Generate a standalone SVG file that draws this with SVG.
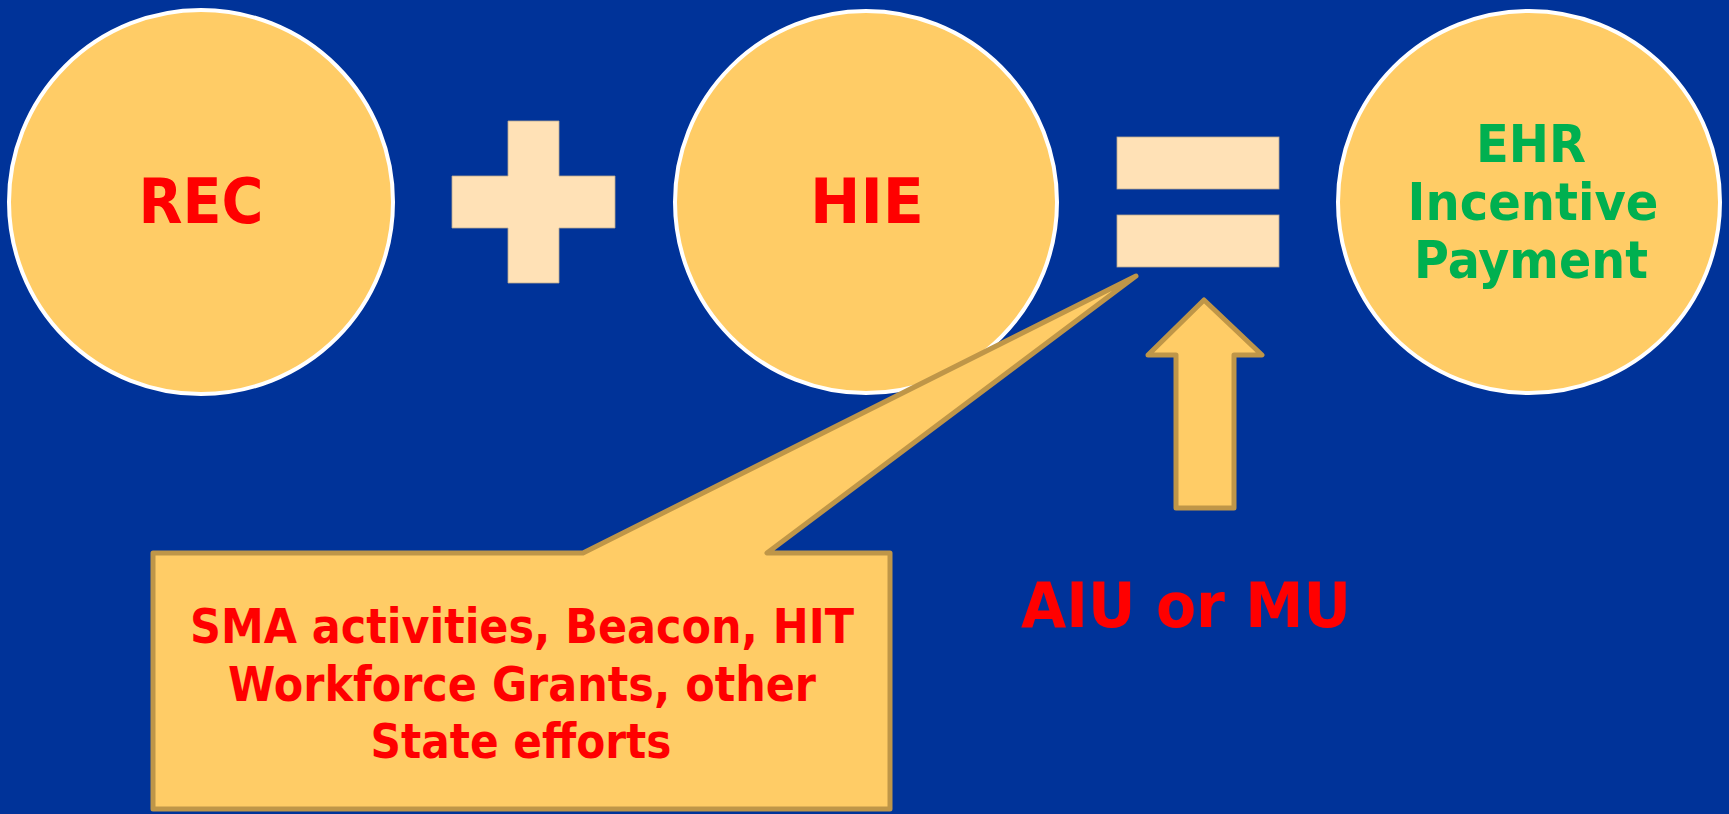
<svg xmlns="http://www.w3.org/2000/svg" width="1729" height="814" viewBox="0 0 1729 814">
<style>
.circ{fill:#FFCC66;stroke:#FFFFFF;stroke-width:4}
.sym{fill:#FFE1B6;stroke:#B8A890;stroke-width:0.8}
.shape{fill:#FFCC66;stroke:#BF9648;stroke-width:5;stroke-linejoin:round}
.t{font-family:"DejaVu Sans","Verdana",sans-serif;font-weight:bold;text-anchor:middle}
.red{fill:#FF0000}
.green{fill:#00B050}
</style>
<rect x="0" y="0" width="1729" height="814" fill="#003399"/>
<g id="rec">
<circle class="circ" cx="201" cy="202" r="192"/>
<text class="t red" x="201" y="223" font-size="62" textLength="125" lengthAdjust="spacingAndGlyphs">REC</text>
</g>
<g id="plus">
<path class="sym" d="M508,121 H559 V176 H615 V228 H559 V283 H508 V228 H452 V176 H508 Z"/>
</g>
<g id="hie">
<circle class="circ" cx="866" cy="202" r="191"/>
<text class="t red" x="867" y="223" font-size="62" textLength="114" lengthAdjust="spacingAndGlyphs">HIE</text>
</g>
<g id="equals">
<rect class="sym" x="1117" y="137" width="162" height="52"/>
<rect class="sym" x="1117" y="215" width="162" height="52"/>
</g>
<g id="ehr">
<circle class="circ" cx="1529" cy="202" r="191"/>
<text class="t green" x="1531" y="162" font-size="52" textLength="110" lengthAdjust="spacingAndGlyphs">EHR</text>
<text class="t green" x="1533" y="220" font-size="52" textLength="251" lengthAdjust="spacingAndGlyphs">Incentive</text>
<text class="t green" x="1531" y="278" font-size="52" textLength="234" lengthAdjust="spacingAndGlyphs">Payment</text>
</g>
<g id="connectors">
<path id="up-arrow" class="shape" d="M1204,300 L1262,355 H1234 V508 H1176 V355 H1148 Z"/>
</g>
<g id="callout">
<path class="shape" d="M153,553 H583 L1136,276 L767,553 H890 V809 H153 Z"/>
<text class="t red" x="522" y="643" font-size="48" textLength="664" lengthAdjust="spacingAndGlyphs">SMA activities, Beacon, HIT</text>
<text class="t red" x="522" y="701" font-size="48" textLength="588" lengthAdjust="spacingAndGlyphs">Workforce Grants, other</text>
<text class="t red" x="521" y="758" font-size="48" textLength="301" lengthAdjust="spacingAndGlyphs">State efforts</text>
</g>
<g id="aiu">
<text class="t red" x="1186" y="627" font-size="63" textLength="330" lengthAdjust="spacingAndGlyphs">AIU or MU</text>
</g>
</svg>
